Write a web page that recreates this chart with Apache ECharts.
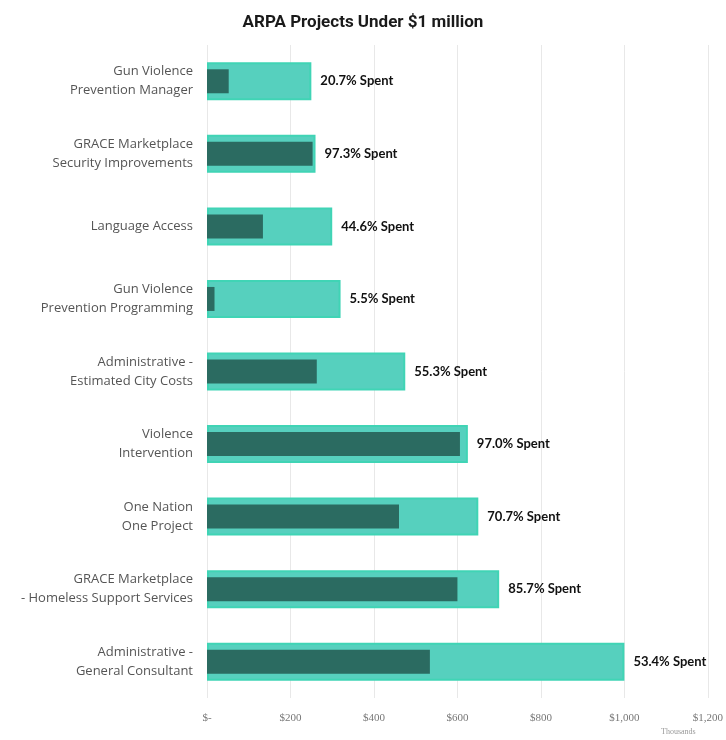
<!DOCTYPE html>
<html>
<head>
<meta charset="utf-8">
<script src="https://cdn.jsdelivr.net/npm/echarts@6/dist/echarts.min.js"></script>
<style>html,body{margin:0;padding:0;background:#fff;}#c{width:726px;height:740px;}</style>
</head>
<body>
<div id="c"></div>
<script>
const categories = [
  "Gun Violence\nPrevention Manager",
  "GRACE Marketplace\nSecurity Improvements",
  "Language Access",
  "Gun Violence\nPrevention Programming",
  "Administrative -\nEstimated City Costs",
  "Violence\nIntervention",
  "One Nation\nOne Project",
  "GRACE Marketplace\n- Homeless Support Services",
  "Administrative -\nGeneral Consultant"
];
const budget = [250, 260, 300, 320, 475, 625, 650, 700, 1000];
const spent = [52, 253, 134, 18, 263, 606, 460, 600, 534];
const pctSpent = ["20.7%", "97.3%", "44.6%", "5.5%", "55.3%", "97.0%", "70.7%", "85.7%", "53.4%"];
const xTicks = [0, 200, 400, 600, 800, 1000, 1200];

const chart = echarts.init(document.getElementById('c'), null, {renderer: 'canvas'});
chart.setOption({
  animation: false,
  backgroundColor: '#ffffff',
  title: {
    text: 'ARPA Projects Under $1 million',
    left: 'center',
    top: 9,
    textStyle: {fontFamily: 'Roboto', fontWeight: 'bold', fontSize: 17, color: '#1a1a1a'}
  },
  grid: {left: 207, right: 15, top: 45, bottom: 42, containLabel: false},
  xAxis: {
    type: 'value',
    min: xTicks[0],
    max: xTicks[xTicks.length - 1],
    interval: 200,
    axisLine: {show: false},
    axisTick: {show: false},
    splitLine: {show: true, lineStyle: {color: '#e8e8e8', width: 1}},
    axisLabel: {
      margin: 15,
      color: '#777',
      fontFamily: 'Liberation Serif',
      fontSize: 11,
      formatter: v => v === 0 ? '$-' : '$' + v.toLocaleString('en-US')
    }
  },
  yAxis: [
    {
      type: 'category',
      data: categories,
      inverse: true,
      axisLine: {show: false},
      axisTick: {show: false},
      splitLine: {show: false},
      axisLabel: {
        margin: 14,
        color: '#555',
        fontFamily: 'Open Sans',
        fontSize: 13,
        lineHeight: 19,
        align: 'right'
      }
    },
    {
      type: 'category',
      data: categories,
      inverse: true,
      show: false
    }
  ],
  series: [
    {
      name: 'Budget',
      type: 'bar',
      yAxisIndex: 0,
      data: budget,
      barWidth: 38,
      itemStyle: {color: '#56d0be', borderColor: '#40d4b5', borderWidth: 2},
      label: {
        show: true,
        position: 'right',
        distance: 9,
        color: '#111',
        fontFamily: 'Lato',
        fontWeight: 'bold',
        fontSize: 13,
        formatter: p => pctSpent[p.dataIndex] + ' Spent'
      },
      z: 2
    },
    {
      name: 'Spent',
      type: 'bar',
      yAxisIndex: 1,
      data: spent,
      barWidth: 24,
      itemStyle: {color: '#2b6b61'},
      z: 3
    }
  ],
  graphic: [
    {
      type: 'text',
      left: 661,
      top: 728,
      style: {text: 'Thousands', fill: '#999', fontSize: 8, fontFamily: 'Liberation Serif'}
    }
  ]
});
</script>
</body>
</html>
